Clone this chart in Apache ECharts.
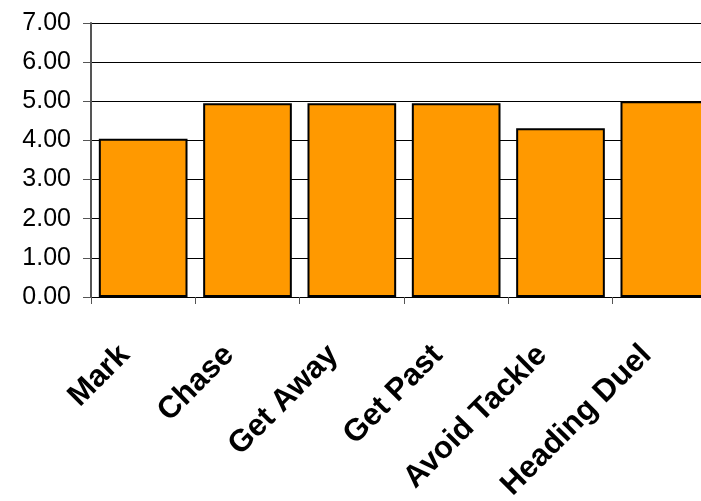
<!DOCTYPE html>
<html>
<head>
<meta charset="utf-8">
<script src="https://cdn.jsdelivr.net/npm/echarts@6/dist/echarts.min.js"></script>
<style>
  html, body { margin: 0; padding: 0; background: #fff; overflow: hidden; width: 701px; height: 501px; }
  /* the plot area continues past the right edge of the view */
  #chart { width: 720px; height: 501px; }
</style>
</head>
<body>
<div id="chart"></div>
<script>
// Skill ratings per action
const categories = ['Mark', 'Chase', 'Get Away', 'Get Past', 'Avoid Tackle', 'Heading Duel'];
const scores = [4.04, 4.95, 4.95, 4.95, 4.31, 5.00];
const yTicks = [0, 1, 2, 3, 4, 5, 6, 7];

const chart = echarts.init(document.getElementById('chart'));
const fontFamily = '"Liberation Sans", Arial, sans-serif';

chart.setOption({
  animation: false,
  backgroundColor: '#ffffff',
  grid: {
    left: 91, top: 23, right: 3, bottom: 204,
    containLabel: false,
    outerBoundsMode: 'none'
  },
  xAxis: {
    type: 'category',
    data: categories,
    boundaryGap: true,
    axisLine: { show: true, lineStyle: { color: '#000', width: 1 } },
    axisTick: { show: true, length: 7, lineStyle: { color: '#555', width: 1 } },
    axisLabel: {
      rotate: 45,
      interval: 0,
      margin: 35,
      padding: [0, 26, 0, 0],
      color: '#000',
      fontFamily: fontFamily,
      fontWeight: 'bold',
      fontSize: 31
    },
    splitLine: { show: false }
  },
  yAxis: {
    type: 'value',
    min: yTicks[0],
    max: yTicks[yTicks.length - 1],
    interval: 1,
    axisLine: { show: true, lineStyle: { color: '#555', width: 2 } },
    axisTick: { show: true, length: 8, lineStyle: { color: '#555', width: 1 } },
    axisLabel: {
      margin: 20,
      color: '#000',
      fontFamily: fontFamily,
      fontSize: 25,
      formatter: v => v.toFixed(2)
    },
    splitLine: { show: true, lineStyle: { color: '#000', width: 1 } }
  },
  series: [{
    type: 'bar',
    data: scores,
    barCategoryGap: '15%',
    itemStyle: { color: '#FF9900', borderColor: '#000', borderWidth: 2 }
  }]
});
</script>
</body>
</html>
